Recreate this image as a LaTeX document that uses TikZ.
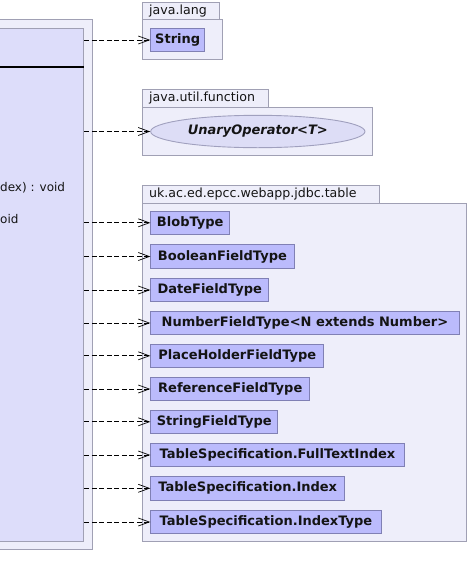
\documentclass[tikz,border=0pt]{standalone}
\usepackage{fontspec}
\setmainfont{DejaVu Sans}
\usetikzlibrary{arrows.meta,shapes.geometric}
\definecolor{pkgfill}{RGB}{238,238,250}
\definecolor{pkgdraw}{RGB}{160,160,180}
\definecolor{clsfill}{RGB}{187,187,252}
\definecolor{clsdraw}{RGB}{128,128,180}
\definecolor{bigfill}{RGB}{221,221,250}
\definecolor{ellfill}{RGB}{221,221,246}
\definecolor{ellborder}{RGB}{160,160,190}
\definecolor{ink}{RGB}{20,20,20}
\tikzset{
  pkg/.style={draw=pkgdraw, fill=pkgfill, line width=0.9pt},
  pkglabel/.style={anchor=west, inner sep=0pt, text=ink, font=\fontsize{12.6}{12.6}\selectfont},
  clsbox/.style={draw=clsdraw, fill=clsfill, line width=0.9pt, anchor=west, text=ink,
    minimum height=23.3pt, inner sep=0pt, font=\fontsize{13}{13}\selectfont\bfseries},
  dep/.style={draw=black, line width=0.7pt, dash pattern=on 5pt off 2.5pt,
    -{Straight Barb[length=11pt,width=8pt,line width=0.7pt]}},
  member/.style={anchor=west, inner sep=0pt, text=ink, font=\fontsize{12}{12}\selectfont}
}
\begin{document}
\begin{tikzpicture}[x=1pt,y=-1pt]
\useasboundingbox (0,0) rectangle (469,587);
\fill[white] (0,0) rectangle (469,587);

% left class, partly outside the page
\draw[pkg] (-10,19.3) rectangle (92.3,549);
\node[draw=pkgdraw, fill=bigfill, line width=0.9pt, anchor=north east,
      minimum width=110pt, minimum height=513pt, inner sep=0pt] (cls) at (84.3,28.3) {};
\draw[line width=1.6pt] (cls.west |- 0,66.7) -- (cls.east |- 0,66.7);
\node[member] (m1) at (0,188) {dex) : void};
\node[member] (m2) at (0,219) {oid};

% package java.lang
\draw[pkg] (142.7,2.7) rectangle (219.3,19.3);
\draw[pkg] (142.7,19.3) rectangle (222.3,59.3);
\node[pkglabel] (p1) at (149,11.3) {java.lang};
\node[clsbox, minimum width=54pt] (str) at (150.3,40) {String};

% package java.util.function
\draw[pkg] (142.7,89.3) rectangle (268.3,107.3);
\draw[pkg] (142.7,107.3) rectangle (372.7,155.3);
\node[pkglabel] (p2) at (149,98.3) {java.util.function};
\node[ellipse, draw=ellborder, fill=ellfill, line width=0.9pt, inner sep=0pt, text=ink,
      minimum width=214.3pt, minimum height=32.4pt,
      font=\fontsize{13}{13}\selectfont\bfseries\itshape] (uop) at (257.8,131.5) {UnaryOperator<T>};

% package uk.ac.ed.epcc.webapp.jdbc.table
\draw[pkg] (142.7,185.3) rectangle (379.7,203.3);
\draw[pkg] (142.7,203.3) rectangle (466.3,541.7);
\node[pkglabel] (p3) at (149,194.3) {uk.ac.ed.epcc.webapp.jdbc.table};
\node[clsbox, minimum width=79pt]    (blob) at (150.3,222.8) {BlobType};
\node[clsbox, minimum width=143.4pt] (bool) at (150.3,256.5) {BooleanFieldType};
\node[clsbox, minimum width=118pt]   (date) at (150.3,290)   {DateFieldType};
\node[clsbox, minimum width=308.4pt] (num)  at (150.3,323)   {NumberFieldType<N extends Number>};
\node[clsbox, minimum width=173pt]   (ph)   at (150.3,355.8) {PlaceHolderFieldType};
\node[clsbox, minimum width=159pt]   (ref)  at (150.3,389)   {ReferenceFieldType};
\node[clsbox, minimum width=127pt]   (sft)  at (150.3,421.8) {StringFieldType};
\node[clsbox, minimum width=253.4pt] (fti)  at (150.3,455)   {TableSpecification.FullTextIndex};
\node[clsbox, minimum width=194pt]   (idx)  at (150.3,488.3) {TableSpecification.Index};
\node[clsbox, minimum width=230.4pt] (idt)  at (150.3,522)   {TableSpecification.IndexType};

% dependencies
\foreach \t in {str,uop,blob,bool,date,num,ph,ref,sft,fti,idx,idt}
  \draw[dep] (cls.east |- \t.west) -- (\t.west);
\end{tikzpicture}
\end{document}
